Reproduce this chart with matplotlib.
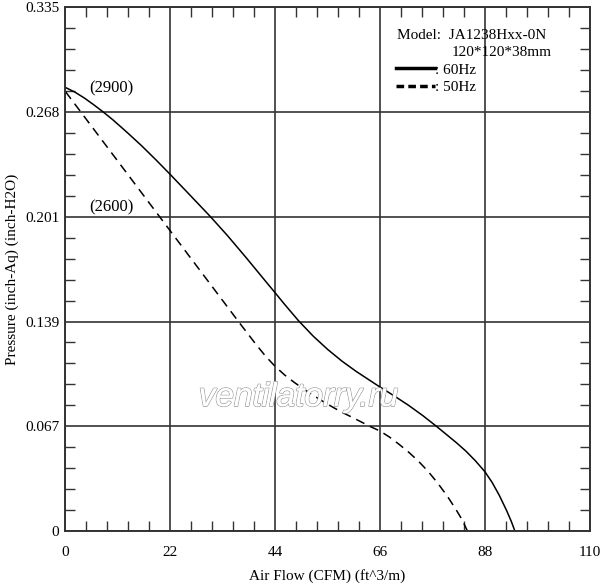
import numpy as np
import matplotlib.pyplot as plt
from matplotlib.lines import Line2D
from matplotlib.ticker import MultipleLocator, FixedLocator, FixedFormatter
import matplotlib.patheffects as pe

plt.rcParams.update({
    'font.family': ['Liberation Serif', 'DejaVu Serif'],
    'font.size': 11,
    'xtick.labelsize': 11,
    'ytick.labelsize': 11,
    'axes.labelsize': 11,
})

# fan curves (CFM, inch-H2O)
flow_60 = [0, 2, 4, 6, 7.9, 10, 13, 16, 19, 21.8, 25, 28, 30.4, 34, 38, 42, 43.85,
           46, 48.9, 52, 55, 58, 61, 65.6, 69, 72, 75, 77.8, 80, 82, 84, 86, 88,
           89.5, 91, 92.5, 93.5, 94.3]
pres_60 = [0.2836, 0.2806, 0.2768, 0.2724, 0.2680, 0.2628, 0.2547, 0.2463, 0.2373,
           0.2286, 0.2184, 0.2088, 0.2011, 0.1889, 0.1745, 0.1597, 0.1529, 0.1449,
           0.1345, 0.1246, 0.1162, 0.1087, 0.1021, 0.0929, 0.0864, 0.0804, 0.0738,
           0.0671, 0.0616, 0.0566, 0.0512, 0.0450, 0.0380, 0.0312, 0.0230, 0.0135,
           0.0065, 0.0]

flow_50 = [0, 4, 8, 12, 16, 20, 24, 28, 32, 36, 38, 40, 42, 44, 46, 48, 50, 52, 54,
           56, 58, 60, 62, 64, 66, 68, 70, 72, 74, 76, 78, 80, 82, 83.2, 84.35]
pres_50 = [0.2810, 0.2648, 0.2486, 0.2324, 0.2162, 0.2000, 0.1838, 0.1676, 0.1514,
           0.1352, 0.1272, 0.1193, 0.1118, 0.1053, 0.0998, 0.0951, 0.0908, 0.0868,
           0.0830, 0.0794, 0.0760, 0.0730, 0.0699, 0.0668, 0.0640, 0.0601, 0.0555,
           0.0505, 0.0449, 0.0385, 0.0311, 0.0229, 0.0135, 0.0074, 0.0]

x_ticks = [0, 22, 44, 66, 88, 110]
y_ticks = [0, 0.067, 0.134, 0.201, 0.268, 0.335]
y_labels = ['0', '0.067', '0.139', '0.201', '0.268', '0.335']

rpm_labels = ['(2900)', '(2600)']
rpm_pos = [(9.6, 0.283), (9.6, 0.207)]

fig = plt.figure(figsize=(6.0, 5.85), dpi=100)
ax = fig.add_axes([0.109, 0.092, 0.874, 0.896])

ax.plot(flow_60, pres_60, color='black', lw=1.1)
ax.plot(flow_50, pres_50, color='black', lw=1.1, ls=(0, (6, 4)))

ax.set_xlim(0, 110)
ax.set_ylim(0, 0.335)
ax.xaxis.set_major_locator(FixedLocator(x_ticks))
ax.xaxis.set_minor_locator(MultipleLocator(4.4))
ax.yaxis.set_major_locator(FixedLocator(y_ticks))
ax.yaxis.set_major_formatter(FixedFormatter(y_labels))
ax.yaxis.set_minor_locator(MultipleLocator(0.0134))

ax.grid(True, which='major', color='#333333', lw=1.2)
ax.tick_params(which='both', direction='in', top=True, right=True)
ax.tick_params(axis='x', which='major', length=0, pad=11)
ax.tick_params(axis='y', which='major', length=0, pad=4.5)
ax.tick_params(which='minor', length=7, width=1.0, color='#333333')
for s in ax.spines.values():
    s.set_linewidth(1.4)
    s.set_color('#333333')

ax.set_xlabel('Air Flow (CFM) (ft^3/m)', labelpad=7)
ax.set_ylabel('Pressure (inch-Aq) (inch-H2O)', labelpad=4)

for lab, (px, py) in zip(rpm_labels, rpm_pos):
    ax.text(px, py, lab, ha='center', va='center', fontsize=12)

ax.text(0.632, 0.946, 'Model:  JA1238Hxx-0N', transform=ax.transAxes,
        ha='left', va='center', fontsize=11)
ax.text(0.737, 0.914, '120*120*38mm', transform=ax.transAxes,
        ha='left', va='center', fontsize=11)

handles = [Line2D([], [], color='black', lw=2.5),
           Line2D([], [], color='black', lw=2.5, ls=(0, (2.2, 1.2)))]
ax.legend(handles, [': 60Hz', ': 50Hz'], loc='upper left', bbox_to_anchor=(0.618, 0.905),
          frameon=False, handlelength=2.6, handletextpad=0.0, labelspacing=0.25,
          fontsize=11, borderaxespad=0)

ax.text(0.445, 0.255, 'ventilatorry.ru', transform=ax.transAxes, ha='center', va='center',
        fontsize=24, style='italic', family='Liberation Sans', color='white',
        path_effects=[pe.withStroke(linewidth=1.1, foreground='#9a9a9a'), pe.Normal()])

fig.savefig('out.png', dpi=100)
